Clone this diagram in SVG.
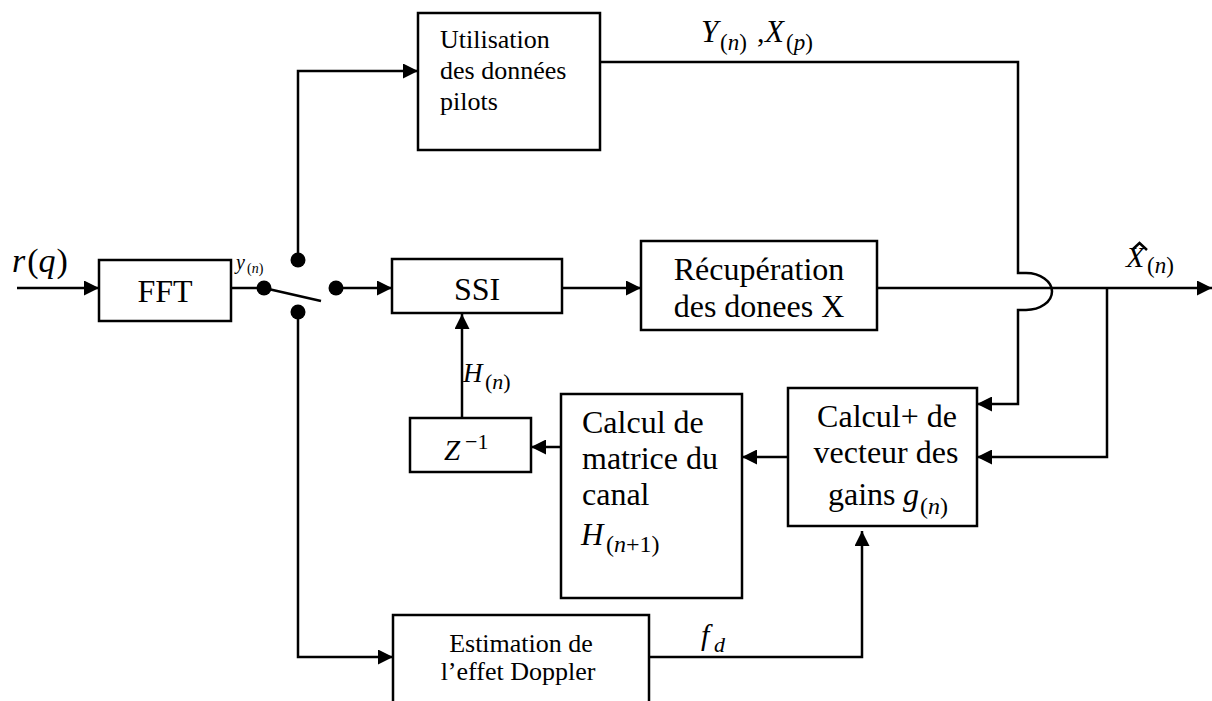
<svg xmlns="http://www.w3.org/2000/svg" width="1212" height="701" viewBox="0 0 1212 701">
<style>
.box{fill:#fff;stroke:#000;stroke-width:2.5}
.ln{fill:none;stroke:#000;stroke-width:2.5}
.t{font-family:"Liberation Serif","Times New Roman",serif;fill:#000}
.m{font-family:"Liberation Serif","Times New Roman",serif;font-style:italic;fill:#000}
.u{font-style:normal}
</style>
<defs>
<marker id="arr" markerUnits="userSpaceOnUse" markerWidth="15" markerHeight="15" viewBox="0 0 15 15" refX="15" refY="7.5" orient="auto">
<path d="M0,0 L15,7.5 L0,15 z" fill="#000"/>
</marker>
</defs>
<rect width="1212" height="701" fill="#fff"/>

<g id="connectors">
<path class="ln" d="M17,288 H99" marker-end="url(#arr)"/>
<path class="ln" d="M231,288 H264"/>
<path class="ln" d="M336,288 H392" marker-end="url(#arr)"/>
<path class="ln" d="M298,260 V71 H418" marker-end="url(#arr)"/>
<path class="ln" d="M298,312 V657 H393" marker-end="url(#arr)"/>
<path class="ln" d="M562,288 H641" marker-end="url(#arr)"/>
<path class="ln" d="M877,288 H1212" marker-end="url(#arr)"/>
<path class="ln" d="M600,62 H1018 V273 H1026 A26,18.5 0 0 1 1026,310 H1018 V404 H977" marker-end="url(#arr)"/>
<path class="ln" d="M1107,288 V457 H977" marker-end="url(#arr)"/>
<path class="ln" d="M788,457 H742" marker-end="url(#arr)"/>
<path class="ln" d="M561,447 H531" marker-end="url(#arr)"/>
<path class="ln" d="M462,418 V314" marker-end="url(#arr)"/>
<path class="ln" d="M649,657 H862 V531" marker-end="url(#arr)"/>
</g>

<g id="switch">
<path class="ln" d="M264,288 L321,301"/>
<circle cx="264" cy="288" r="7.5"/>
<circle cx="298" cy="260" r="7.5"/>
<circle cx="298" cy="312" r="7.5"/>
<circle cx="336" cy="288" r="7.5"/>
</g>

<g id="input-label">
<text class="m" x="12" y="272" font-size="34">r<tspan class="u" dx="2">(</tspan>q<tspan class="u" dx="1">)</tspan></text>
</g>

<g id="fft">
<rect class="box" x="99" y="260" width="132" height="61"/>
<text class="t" x="165" y="302" font-size="32" text-anchor="middle">FFT</text>
</g>

<g id="y-label">
<text class="m" x="236" y="269" font-size="20">y</text>
<text class="m" x="247" y="273" font-size="14"><tspan class="u">(</tspan>n<tspan class="u">)</tspan></text>
</g>

<g id="utilisation">
<rect class="box" x="418" y="13" width="182" height="137"/>
<text class="t" x="440" y="48" font-size="26">Utilisation</text>
<text class="t" x="440" y="79" font-size="26">des données</text>
<text class="t" x="440" y="110" font-size="26">pilots</text>
</g>

<g id="yx-label">
<text class="m" x="701" y="42" font-size="31">Y</text>
<text class="m" x="720" y="50" font-size="23"><tspan class="u">(</tspan>n<tspan class="u">)</tspan></text>
<text class="t" x="757" y="42" font-size="30">,</text>
<text class="m" x="765" y="42" font-size="31">X</text>
<text class="m" x="786" y="50" font-size="23"><tspan class="u">(</tspan>p<tspan class="u">)</tspan></text>
</g>

<g id="ssi">
<rect class="box" x="392" y="259" width="170" height="54"/>
<text class="t" x="477" y="300" font-size="32" text-anchor="middle">SSI</text>
</g>

<g id="recuperation">
<rect class="box" x="641" y="241" width="236" height="89"/>
<text class="t" x="759" y="280" font-size="32" text-anchor="middle">Récupération</text>
<text class="t" x="759" y="317" font-size="32" text-anchor="middle">des donees X</text>
</g>

<g id="xhat-label">
<text class="m" x="1126" y="267" font-size="30">X</text>
<path class="ln" d="M1132,250 L1139.5,243 L1147,250" stroke-width="1.8"/>
<text class="m" x="1147" y="273" font-size="23"><tspan class="u">(</tspan>n<tspan class="u">)</tspan></text>
</g>

<g id="h-label">
<text class="m" x="463" y="382" font-size="27">H</text>
<text class="m" x="485" y="389" font-size="22"><tspan class="u">(</tspan>n<tspan class="u">)</tspan></text>
</g>

<g id="z-delay">
<rect class="box" x="410" y="418" width="121" height="54"/>
<text class="m" x="444" y="460" font-size="29">Z</text>
<text class="t" x="465" y="449" font-size="22">−1</text>
</g>

<g id="calcul-matrice">
<rect class="box" x="561" y="394" width="181" height="204"/>
<text class="t" x="582" y="433" font-size="32">Calcul de</text>
<text class="t" x="582" y="469" font-size="32">matrice du</text>
<text class="t" x="582" y="505" font-size="32">canal</text>
<text class="m" x="581" y="545" font-size="31">H</text>
<text class="m" x="606" y="552" font-size="24"><tspan class="u">(</tspan>n<tspan class="u">+1)</tspan></text>
</g>

<g id="calcul-gains">
<rect class="box" x="788" y="388" width="189" height="138"/>
<text class="t" x="887" y="427" font-size="32" text-anchor="middle">Calcul+ de</text>
<text class="t" x="886" y="463" font-size="32" text-anchor="middle">vecteur des</text>
<text class="t" x="828" y="505" font-size="32">gains</text>
<text class="m" x="903" y="505" font-size="32">g</text>
<text class="m" x="920" y="514" font-size="24"><tspan class="u">(</tspan>n<tspan class="u">)</tspan></text>
</g>

<g id="estimation">
<rect class="box" x="393" y="615" width="256" height="100"/>
<text class="t" x="521" y="652" font-size="26" text-anchor="middle">Estimation de</text>
<text class="t" x="518" y="680" font-size="26" text-anchor="middle">l’effet Doppler</text>
</g>

<g id="fd-label">
<text class="m" x="701" y="645" font-size="30">f</text>
<text class="m" x="714" y="652" font-size="22">d</text>
</g>
</svg>
